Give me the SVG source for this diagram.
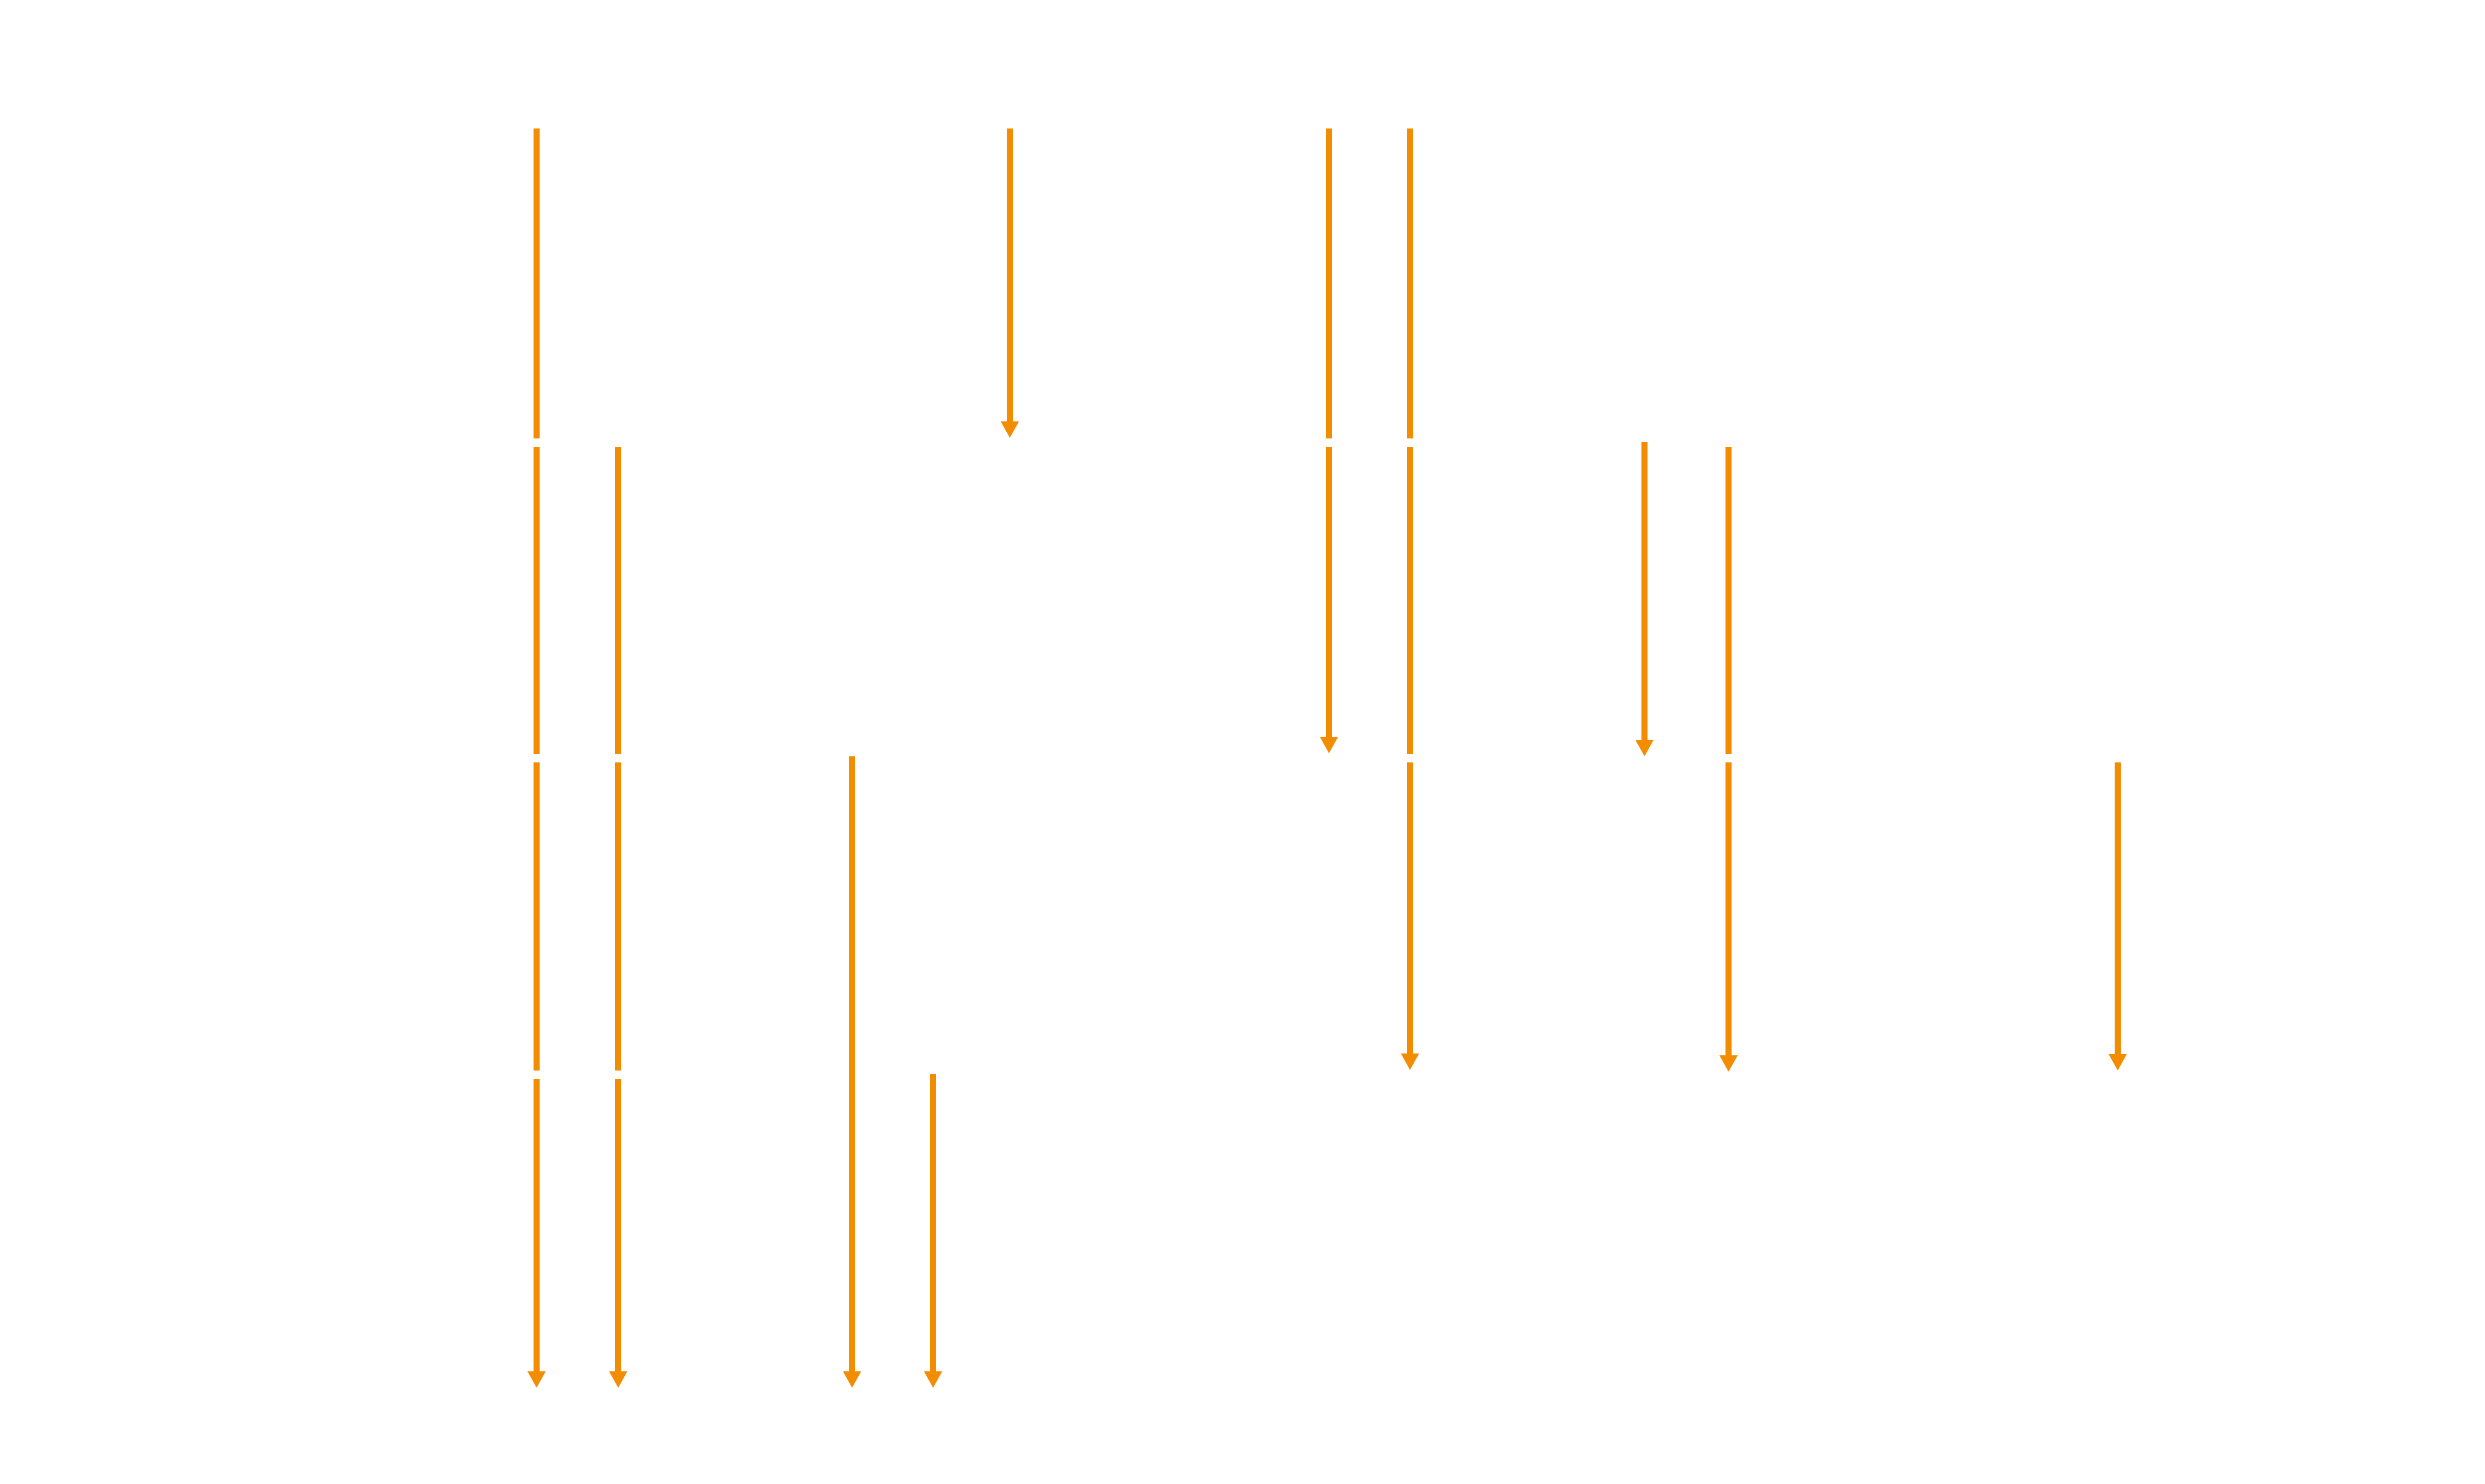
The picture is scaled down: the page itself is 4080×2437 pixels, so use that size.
<svg xmlns="http://www.w3.org/2000/svg" width="4080" height="2437" viewBox="0 0 4080 2437">
  <defs>
    <style>
      .c { stroke: #F28C00; stroke-width: 10; fill: none; stroke-linecap: butt; }
      .a { marker-end: url(#arrow); }
    </style>
    <marker id="arrow" markerUnits="userSpaceOnUse" viewBox="0 0 27 30" markerWidth="27" markerHeight="30" refX="1" refY="15" orient="auto">
      <path d="M0,0 L27,15 L0,30 Z" fill="#F28C00"/>
    </marker>
  </defs>
  <rect x="0" y="0" width="4080" height="2437" fill="#FFFFFF"/>
  <g id="connectors">
    <!-- x=881 -->
    <path class="c" d="M881,211 V720"/>
    <path class="c" d="M881,734 V1238"/>
    <path class="c" d="M881,1252 V1758"/>
    <path class="c a" d="M881,1772 V2253"/>
    <!-- x=1015 -->
    <path class="c" d="M1015,734 V1238"/>
    <path class="c" d="M1015,1252 V1758"/>
    <path class="c a" d="M1015,1772 V2253"/>
    <!-- x=1399 -->
    <path class="c a" d="M1399,1242 V2253"/>
    <!-- x=1532 -->
    <path class="c a" d="M1532,1764 V2253"/>
    <!-- x=1658 -->
    <path class="c a" d="M1658,211 V693"/>
    <!-- x=2182 -->
    <path class="c" d="M2182,211 V720"/>
    <path class="c a" d="M2182,734 V1211"/>
    <!-- x=2315 -->
    <path class="c" d="M2315,211 V720"/>
    <path class="c" d="M2315,734 V1238"/>
    <path class="c a" d="M2315,1252 V1731"/>
    <!-- x=2700 -->
    <path class="c a" d="M2700,726 V1216"/>
    <!-- x=2838 -->
    <path class="c" d="M2838,734 V1238"/>
    <path class="c a" d="M2838,1252 V1734"/>
    <!-- x=3477 -->
    <path class="c a" d="M3477,1252 V1732"/>
  </g>
</svg>
